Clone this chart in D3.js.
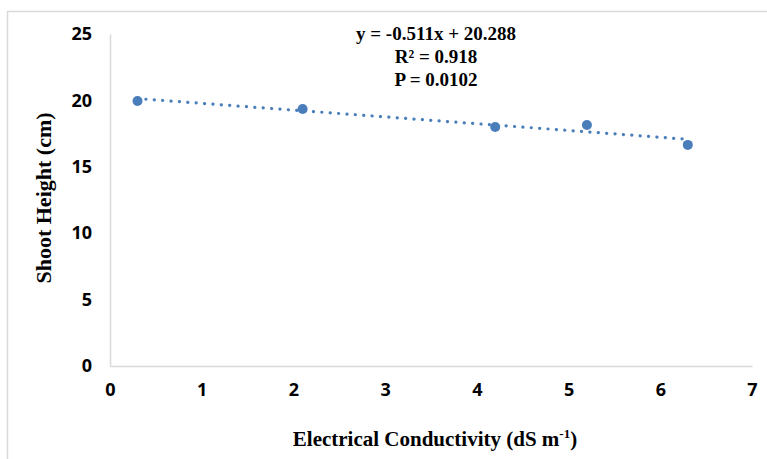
<!DOCTYPE html>
<html>
<head>
<meta charset="utf-8">
<script src="https://cdn.jsdelivr.net/npm/d3@7"></script>
<style>
  body { margin: 0; background: #fff; }
  .ttl { font-family: "Liberation Serif", "Times New Roman", serif; font-weight: bold; fill: #000; }
</style>
</head>
<body>
<div id="chart"></div>
<script>
var ec = [0.3, 2.1, 4.2, 5.2, 6.3]
var shootHeight = [19.95, 19.35, 18.0, 18.15, 16.65]
var xTicks = [0, 1, 2, 3, 4, 5, 6, 7]
var yTicks = [0, 5, 10, 15, 20, 25]
var slope = -0.511, intercept = 20.288
var eqLines = ['y = -0.511x + 20.288', 'R² = 0.918', 'P = 0.0102']

var W = 767, H = 459
var margin = {top: 34, right: 15, bottom: 93, left: 110},
    width = W - margin.left - margin.right,
    height = H - margin.top - margin.bottom

var x = d3.scaleLinear().domain([0, 7]).range([0, width]),
    y = d3.scaleLinear().domain([0, 25]).range([height, 0])

var svg = d3.select('#chart').append('svg')
  .attr('width', W).attr('height', H)

// outer frame (only top and left edges visible)
svg.append('path')
  .attr('d', `M7.5,${H} V11.5 H${W}`)
  .attr('fill', 'none').attr('stroke', '#d9d9d9').attr('stroke-width', 1.5)

var g = svg.append('g').attr('transform', `translate(${[margin.left, margin.top]})`)

function styleAxis(ax){
  ax.attr('font-family', '"Open Sans", sans-serif').attr('font-size', 18).attr('font-weight', 'bold')
  ax.selectAll('.tick text').attr('fill', '#000')
  ax.select('.domain').attr('stroke', '#d9d9d9').attr('stroke-width', 1.5)
}

var yAxis = g.append('g').call(d3.axisLeft(y).tickValues(yTicks).tickFormat(d3.format('d')).tickSize(0).tickPadding(18))
styleAxis(yAxis)

var xAxis = g.append('g').attr('transform', `translate(0,${height})`)
  .call(d3.axisBottom(x).tickValues(xTicks).tickFormat(d3.format('d')).tickSize(0).tickPadding(17))
styleAxis(xAxis)

// trend line
var x0 = d3.min(ec), x1 = d3.max(ec)
g.append('line')
  .attr('x1', x(x0)).attr('y1', y(slope * x0 + intercept))
  .attr('x2', x(x1)).attr('y2', y(slope * x1 + intercept))
  .attr('stroke', '#4a7ebb').attr('stroke-width', 3.2)
  .attr('stroke-linecap', 'round').attr('stroke-dasharray', '0.1 8.3')

g.selectAll('.pt').data(ec).enter().append('circle')
  .attr('class', 'pt')
  .attr('cx', d => x(d))
  .attr('cy', (d, i) => y(shootHeight[i]))
  .attr('r', 5)
  .attr('fill', '#4a7ebb')

g.selectAll('.eq').data(eqLines).enter().append('text')
  .attr('class', 'ttl')
  .attr('x', 326).attr('y', (d, i) => 6 + i * 23)
  .attr('text-anchor', 'middle').attr('font-size', 19)
  .text(d => d)

var xt = svg.append('text').attr('class', 'ttl')
  .attr('x', 435).attr('y', 446).attr('text-anchor', 'middle').attr('font-size', 21)
xt.append('tspan').text('Electrical Conductivity (dS m')
xt.append('tspan').attr('font-size', 13).attr('dy', -8).text('-1')
xt.append('tspan').attr('dy', 8).text(')')

svg.append('text').attr('class', 'ttl')
  .attr('transform', 'translate(51,198) rotate(-90)')
  .attr('text-anchor', 'middle').attr('font-size', 22)
  .text('Shoot Height (cm)')
</script>
</body>
</html>
